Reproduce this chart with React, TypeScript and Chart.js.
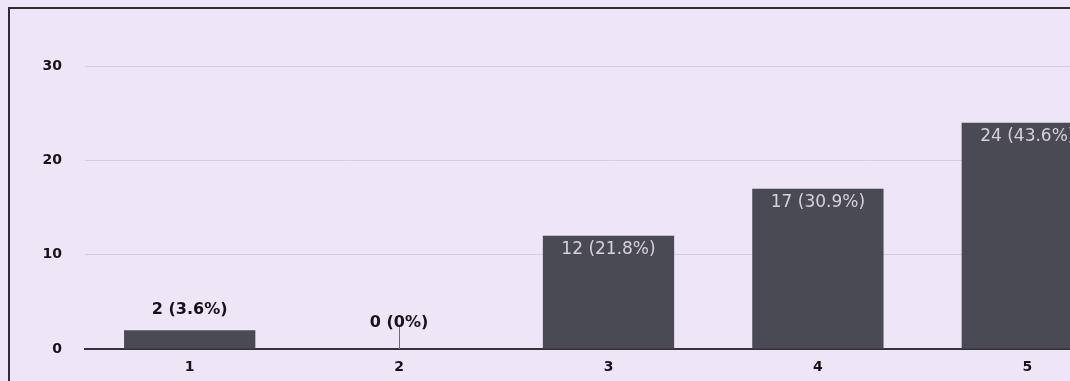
import { useEffect, useRef } from "react";
import { Chart, registerables } from "chart.js";

Chart.register(...registerables);

// Response counts per rating
const categories = ["1", "2", "3", "4", "5"];
const counts = [2, 0, 12, 17, 24];
const yTicks = [0, 10, 20, 30];

const total = counts.reduce((a, b) => a + b, 0);

function labelFor(v: number): string {
  const p = (v / total) * 100;
  return `${v} (${p === 0 ? "0" : p.toFixed(1)}%)`;
}

// Draws "count (percent)" on each bar: inside near the top for tall bars,
// above the bar for short ones, with a small stem for empty categories.
const valueLabels = {
  id: "valueLabels",
  afterDatasetsDraw(chart: any) {
    const ctx = chart.ctx;
    const meta = chart.getDatasetMeta(0);
    const base = chart.scales.y.getPixelForValue(0);
    meta.data.forEach((bar: any, i: number) => {
      const v = counts[i];
      const { x, y } = bar.getProps(["x", "y"], true);
      const text = labelFor(v);
      ctx.save();
      ctx.textAlign = "center";
      ctx.textBaseline = "middle";
      if (base - y > 40) {
        ctx.font = '17px "DejaVu Sans"';
        ctx.fillStyle = "#d6d2dd";
        ctx.fillText(text, x, y + 14);
      } else {
        ctx.font = 'bold 16px "DejaVu Sans"';
        ctx.fillStyle = "#141318";
        if (v === 0) {
          ctx.strokeStyle = "#6e6a75";
          ctx.lineWidth = 1;
          ctx.beginPath();
          ctx.moveTo(Math.round(x) + 0.5, base);
          ctx.lineTo(Math.round(x) + 0.5, base - 22);
          ctx.stroke();
          ctx.fillText(text, x, base - 26);
        } else {
          ctx.fillText(text, x, y - 20);
        }
      }
      ctx.restore();
    });
  },
};

export default function App() {
  const canvasRef = useRef<HTMLCanvasElement | null>(null);

  useEffect(() => {
    const canvas = canvasRef.current;
    if (!canvas) return;
    const chart = new Chart(canvas, {
      type: "bar",
      data: {
        labels: categories,
        datasets: [
          {
            data: counts,
            backgroundColor: "#4a4a54",
            borderWidth: 0,
            categoryPercentage: 1,
            barPercentage: 0.627,
          },
        ],
      },
      options: {
        responsive: false,
        maintainAspectRatio: false,
        animation: false,
        devicePixelRatio: 1,
        layout: { padding: { top: 19, left: 0, right: 0, bottom: 0 } },
        plugins: {
          legend: { display: false },
          tooltip: { enabled: false },
        },
        scales: {
          x: {
            grid: { display: false, drawTicks: false },
            border: { display: true, color: "#34333a", width: 2 },
            ticks: {
              color: "#141318",
              font: { family: "DejaVu Sans", size: 14, weight: "bold" },
              padding: 10,
            },
            afterFit: (s: any) => {
              s.height = 32;
              s.paddingLeft = 0;
              s.paddingRight = 0;
            },
          },
          y: {
            min: 0,
            max: 35,
            afterBuildTicks: (s: any) => {
              s.ticks = yTicks.map((v) => ({ value: v }));
            },
            grid: { color: "#d6cde1", drawTicks: false, lineWidth: 1 },
            border: { display: false },
            ticks: {
              color: "#141318",
              font: { family: "DejaVu Sans", size: 14, weight: "bold" },
              padding: 23,
            },
            afterFit: (s: any) => {
              s.width = 85;
              s.paddingTop = 0;
              s.paddingBottom = 0;
            },
          },
        },
      },
      plugins: [valueLabels],
    });
    return () => chart.destroy();
  }, []);

  return (
    <div
      style={{
        position: "absolute",
        left: 0,
        top: 0,
        width: 1070,
        height: 381,
        overflow: "hidden",
        background: "#eee5f6",
      }}
    >
      <canvas
        ref={canvasRef}
        width={1132}
        height={381}
        style={{ position: "absolute", left: 0, top: 0, width: 1132, height: 381 }}
      />
      <div
        style={{
          position: "absolute",
          left: 8,
          top: 7,
          width: 1200,
          height: 500,
          borderLeft: "2px solid #2e2d33",
          borderTop: "2px solid #2e2d33",
        }}
      />
    </div>
  );
}
